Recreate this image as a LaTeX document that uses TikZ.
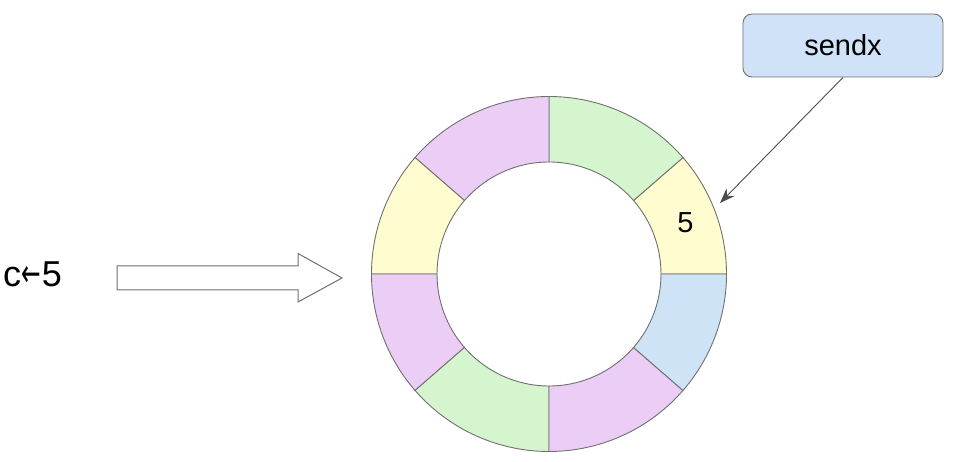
\documentclass[tikz,border=0pt]{standalone}
\usepackage{fontspec}
\setmainfont{Liberation Sans}
\newfontfamily\arrowfont{DejaVu Sans}
\usetikzlibrary{arrows.meta,calc}
\definecolor{segY}{HTML}{FFFDD0}
\definecolor{segG}{HTML}{D5F5CF}
\definecolor{segP}{HTML}{EBCDF5}
\definecolor{segB}{HTML}{CFE3F7}
\definecolor{boxB}{HTML}{CFE2F7}
\definecolor{edge}{HTML}{707070}
\tikzset{
  seg/.style={draw=edge, line width=0.9pt},
  labelbox/.style={draw=edge, fill=boxB, rounded corners=9pt, line width=0.9pt,
    minimum width=200pt, minimum height=63pt, inner sep=0pt, font=\fontsize{29}{32}\selectfont},
  pointer/.style={draw=black!70, line width=0.9pt, -{Stealth[length=15pt,width=11pt]}},
  blockarrow/.style={draw=edge, fill=white, line width=1pt, line join=miter},
  bigtext/.style={font=\fontsize{36}{40}\selectfont, inner sep=0pt},
  numtext/.style={font=\fontsize{29}{32}\selectfont, inner sep=0pt}
}
\newcommand{\ringseg}[3]{% start angle, end angle, color
  \path[seg, fill=#3] (549,188) ++(#1:177.5) arc[start angle=#1, end angle=#2, radius=177.5]
    -- ($(549,188)+(#2:112)$) arc[start angle=#2, end angle=#1, radius=112] -- cycle;}
\begin{document}
\begin{tikzpicture}[x=1pt,y=1pt]
\useasboundingbox (0,0) rectangle (955,462);
% ring
\ringseg{0}{41}{segY}
\ringseg{41}{90}{segG}
\ringseg{90}{139}{segP}
\ringseg{139}{180}{segY}
\ringseg{180}{221}{segP}
\ringseg{221}{270}{segG}
\ringseg{270}{319}{segP}
\ringseg{319}{360}{segB}
\node[numtext] (five) at (685.5,239.5) {5};
% sendx box and pointer
\node[labelbox] (sendx) at (843,416.5) {sendx};
\coordinate (tip) at (720,259);
\draw[pointer] (sendx.south) -- (tip);
% left text and block arrow
\node[bigtext] (c5) at (32.5,188) {c\kern0.5pt\scalebox{0.65}[1.05]{\arrowfont ←}\kern0.5pt5};
\draw[blockarrow] (117,172) -- (298,172) -- (298,160) -- (342,184) -- (298,208.5) -- (298,196) -- (117,196) -- cycle;
\end{tikzpicture}
\end{document}
